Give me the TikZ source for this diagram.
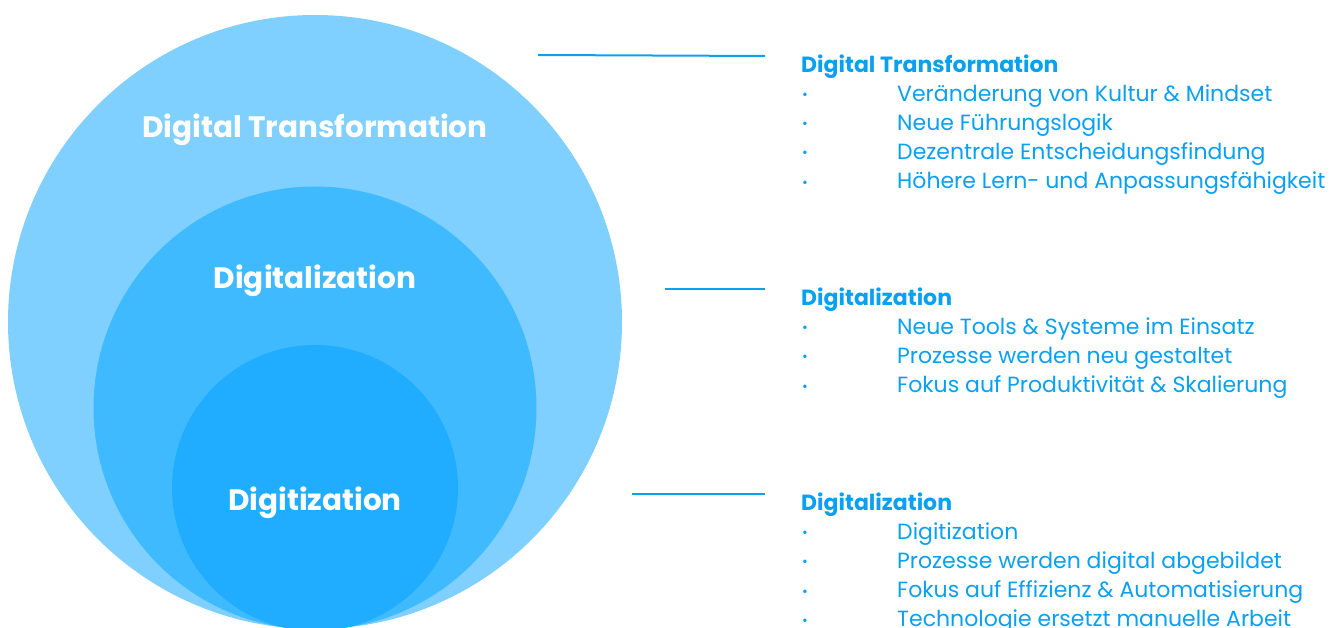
\documentclass[tikz,border=0pt]{standalone}
\usepackage{fontspec}
\setmainfont{Poppins}
\usetikzlibrary{positioning}
\definecolor{kreisaussen}{RGB}{128,208,255}
\definecolor{kreismitte}{RGB}{64,186,255}
\definecolor{kreisinnen}{RGB}{32,172,255}
\definecolor{textblau}{RGB}{10,160,240}
\tikzset{
  kreis/.style={circle, inner sep=0pt, draw=none},
  kreistitel/.style={anchor=base, text=white,
    font=\bfseries\fontsize{29.5}{32}\selectfont},
  linie/.style={draw=textblau, line width=2pt},
  eintrag/.style={anchor=north west, inner sep=0pt, text height=16pt,
    text depth=5pt, text=textblau, font=\fontsize{22}{25}\selectfont},
  kopf/.style={eintrag, font=\bfseries\fontsize{22}{25}\selectfont}
}
\newcommand{\pkt}[1]{\makebox[96pt][l]{\hspace{1pt}\raisebox{1.5pt}{\fontsize{14}{14}\selectfont •}}#1}

\begin{document}
\begin{tikzpicture}[x=1pt, y=-1pt, node distance=7.7pt]
  \useasboundingbox (0,0) rectangle (1341,628);
  % drei Kreise
  \node[kreis, fill=kreisaussen, minimum size=614pt] (aussen) at (315,322) {};
  \node[kreis, fill=kreismitte, minimum size=443pt] (mitte) at (315,408) {};
  \node[kreis, fill=kreisinnen, minimum size=286pt] (innen) at (315,488) {};
  \node[kreistitel] (taussen) at (315,138) {Digital Transformation};
  \node[kreistitel] (tmitte) at (315,289) {Digitalization};
  \node[kreistitel] (tinnen) at (315,510) {Digitization};
  % Block 1
  \node[kopf] (dt) at (801,56) {Digital Transformation};
  \node[eintrag, below=of dt.south west, anchor=north west] (dt1) {\pkt{Veränderung von Kultur \& Mindset}};
  \node[eintrag, below=of dt1.south west, anchor=north west] (dt2) {\pkt{Neue Führungslogik}};
  \node[eintrag, below=of dt2.south west, anchor=north west] (dt3) {\pkt{Dezentrale Entscheidungsfindung}};
  \node[eintrag, below=of dt3.south west, anchor=north west] (dt4) {\pkt{Höhere Lern- und Anpassungsfähigkeit}};
  % Block 2
  \node[kopf] (dl) at (801,289) {Digitalization};
  \node[eintrag, below=of dl.south west, anchor=north west] (dl1) {\pkt{Neue Tools \& Systeme im Einsatz}};
  \node[eintrag, below=of dl1.south west, anchor=north west] (dl2) {\pkt{Prozesse werden neu gestaltet}};
  \node[eintrag, below=of dl2.south west, anchor=north west] (dl3) {\pkt{Fokus auf Produktivität \& Skalierung}};
  % Block 3
  \node[kopf] (dz) at (801,494) {Digitalization};
  \node[eintrag, below=of dz.south west, anchor=north west] (dz1) {\pkt{Digitization}};
  \node[eintrag, below=of dz1.south west, anchor=north west] (dz2) {\pkt{Prozesse werden digital abgebildet}};
  \node[eintrag, below=of dz2.south west, anchor=north west] (dz3) {\pkt{Fokus auf Effizienz \& Automatisierung}};
  \node[eintrag, below=of dz3.south west, anchor=north west] (dz4) {\pkt{Technologie ersetzt manuelle Arbeit}};
  % Linien
  \coordinate (l1) at (538,55);
  \coordinate (l2) at (665,289);
  \coordinate (l3) at (632,494);
  \draw[linie] (l1) -- ([xshift=-36pt]dt.north west);
  \draw[linie] (l2) -- ([xshift=-36pt]dl.north west);
  \draw[linie] (l3) -- ([xshift=-36pt]dz.north west);
\end{tikzpicture}
\end{document}
